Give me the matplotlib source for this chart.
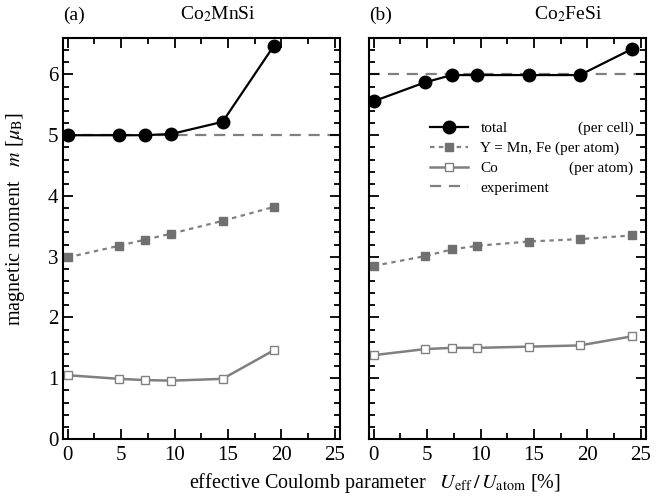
import numpy as np
import matplotlib
matplotlib.use("Agg")
import matplotlib.pyplot as plt
from matplotlib.ticker import MultipleLocator
from matplotlib.lines import Line2D

plt.rcParams['font.family'] = ['Liberation Serif', 'DejaVu Serif']
plt.rcParams['mathtext.fontset'] = 'stix'

# U_eff / U_atom [%]
u_mn = [0, 4.8, 7.2, 9.7, 14.5, 19.3]
u_fe = [0, 4.8, 7.3, 9.7, 14.5, 19.3, 24.2]

# Co2MnSi
tot_mn = [5.00, 5.00, 5.00, 5.02, 5.22, 6.47]
y_mn = [2.99, 3.18, 3.28, 3.38, 3.59, 3.82]
co_mn = [1.05, 0.99, 0.97, 0.96, 0.99, 1.46]
exp_mn = 5.0

# Co2FeSi
tot_fe = [5.56, 5.87, 5.99, 5.99, 5.99, 5.99, 6.42]
y_fe = [2.85, 3.01, 3.12, 3.18, 3.25, 3.29, 3.35]
co_fe = [1.38, 1.48, 1.50, 1.50, 1.52, 1.54, 1.69]
exp_fe = 6.0

gray = '#808080'
dash_exp = (0, (5, 3.5))
dash_y = (0, (2, 2))

fig = plt.figure(figsize=(6.72, 4.97), dpi=100)
# axes: left 63-340 px, right 369-646 px, y 38-439 px
ax1 = fig.add_axes([63 / 672, 58 / 497, 277 / 672, 401 / 497])
ax2 = fig.add_axes([369 / 672, 58 / 497, 277 / 672, 401 / 497])


def panel(ax, u, tot, yy, co, exp):
    ax.axhline(exp, color=gray, lw=1.6, ls=dash_exp, zorder=1)
    ax.plot(u, co, color=gray, lw=1.8, marker='s', ms=6, mfc='white',
            mec=gray, mew=1.0, zorder=2)
    ax.plot(u, yy, color=gray, lw=1.6, ls=dash_y, marker='s', ms=5.5,
            mfc='#707070', mec='#707070', zorder=2)
    ax.plot(u, tot, color='black', lw=1.6, marker='o', ms=9, zorder=3)
    ax.set_xlim(-0.45, 25.5)
    ax.set_ylim(0, 6.6)
    ax.xaxis.set_major_locator(MultipleLocator(5))
    ax.xaxis.set_minor_locator(MultipleLocator(2.5))
    ax.yaxis.set_major_locator(MultipleLocator(1))
    ax.yaxis.set_minor_locator(MultipleLocator(0.2))
    ax.tick_params(which='both', direction='in', top=True, right=True,
                   labelsize=15, width=1.3)
    ax.tick_params(which='major', length=7)
    ax.tick_params(which='minor', length=4)
    ax.tick_params(axis='x', pad=5)
    for s in ax.spines.values():
        s.set_linewidth(1.5)


panel(ax1, u_mn, tot_mn, y_mn, co_mn, exp_mn)
panel(ax2, u_fe, tot_fe, y_fe, co_fe, exp_fe)
ax2.tick_params(labelleft=False)

ax1.set_ylabel(r'magnetic moment   $m$ [$\mu_{\rm B}$]', fontsize=14.5)
ax1.yaxis.set_label_coords(-0.13, 0.55)
fig.text(375 / 672, 0.018, r'effective Coulomb parameter   $U_{\rm eff}\,/\,U_{\rm atom}$ [%]',
         ha='center', fontsize=14.5)

ax1.text(0.0, 1.035, '(a)', transform=ax1.transAxes, fontsize=14, ha='left', va='bottom')
ax1.text(0.56, 1.035, r'Co$_2$MnSi', transform=ax1.transAxes, fontsize=14, ha='center', va='bottom')
ax2.text(0.0, 1.035, '(b)', transform=ax2.transAxes, fontsize=14, ha='left', va='bottom')
ax2.text(0.72, 1.035, r'Co$_2$FeSi', transform=ax2.transAxes, fontsize=14, ha='center', va='bottom')

handles = [
    Line2D([], [], color='black', lw=1.6, marker='o', ms=9),
    Line2D([], [], color=gray, lw=1.6, ls=dash_y, marker='s', ms=5.5,
           mfc='#707070', mec='#707070'),
    Line2D([], [], color=gray, lw=1.8, marker='s', ms=6, mfc='white', mec=gray),
    Line2D([], [], color=gray, lw=1.6, ls=dash_exp),
]
labels = ['total', 'Y = Mn, Fe (per atom)', 'Co', 'experiment']
extra = ['(per cell)', '', '(per atom)', '']
leg = ax2.legend(handles, labels, loc='upper left', bbox_to_anchor=(0.22, 0.792),
                 frameon=False, fontsize=11, handlelength=2.5, handletextpad=0.8,
                 labelspacing=0.4, borderaxespad=0, borderpad=0)

fig.canvas.draw()
inv = ax2.transAxes.inverted()
for t, e in zip(leg.get_texts(), extra):
    if not e:
        continue
    bb = t.get_window_extent()
    yc = inv.transform(((bb.x0 + bb.x1) / 2, (bb.y0 + bb.y1) / 2))[1]
    ax2.text(0.955, yc, e, transform=ax2.transAxes, fontsize=11,
             ha='right', va='center')

fig.savefig('out.png', dpi=100)
